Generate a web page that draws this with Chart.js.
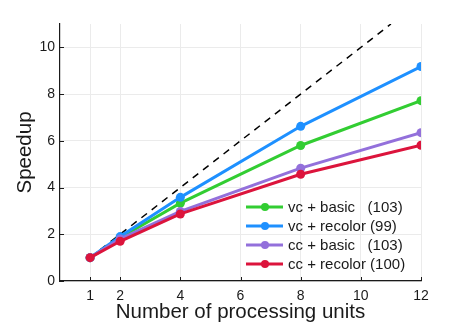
<!DOCTYPE html>
<html>
<head>
  <title>Speedup</title>
  <script src="https://cdn.jsdelivr.net/npm/chart.js"></script>
  <style>
    html, body { margin: 0; padding: 0; background: #fff; }
    #wrap { width: 465px; height: 327px; }
  </style>
</head>
<body>
<div id="wrap">
  <canvas id="speedupChart" width="465" height="327"></canvas>
</div>

<script>
  // data
  const units = [1, 2, 4, 8, 12];
  const vcBasic = [1, 1.85, 3.33, 5.8, 7.72];
  const vcRecolor = [1, 1.9, 3.58, 6.62, 9.18];
  const ccBasic = [1, 1.8, 2.98, 4.83, 6.35];
  const ccRecolor = [1, 1.7, 2.87, 4.57, 5.81];
  const seriesLabels = ['vc + basic   (103)', 'vc + recolor (99)', 'cc + basic   (103)', 'cc + recolor (100)'];
  const seriesColors = ['#32cd32', '#1e90ff', '#9370db', '#dc143c'];
  const idealX = [1, 11];
  const xTicks = [1, 2, 4, 6, 8, 10, 12];
  const yTicks = [0, 2, 4, 6, 8, 10];

  const FONT = 'Liberation Sans, Arial, Helvetica, sans-serif';
  const TEXT = '#1a1a1a';

  const toPoints = (ys) => ys.map((y, i) => ({ x: units[i], y: y }));
  const allSeries = [vcBasic, vcRecolor, ccBasic, ccRecolor];

  const datasets = allSeries.map((ys, i) => ({
    label: seriesLabels[i],
    data: toPoints(ys),
    borderColor: seriesColors[i],
    backgroundColor: seriesColors[i],
    borderWidth: 3,
    pointRadius: 4.5,
    pointBorderWidth: 0,
    order: 4 - i
  }));
  datasets.push({
    label: '',
    data: idealX.map(v => ({ x: v, y: v })),
    borderColor: '#000',
    borderWidth: 1.5,
    borderDash: [7, 6],
    pointRadius: 0,
    order: 10
  });

  // legend inside the plot, bottom right, no frame
  const innerLegend = {
    id: 'innerLegend',
    afterDraw(chart) {
      const ctx = chart.ctx;
      ctx.save();
      ctx.font = '15px ' + FONT;
      ctx.textBaseline = 'middle';
      chart.data.datasets.forEach((ds, i) => {
        if (!ds.label) return;
        const y = 207 + i * 19;
        ctx.strokeStyle = ds.borderColor;
        ctx.lineWidth = 3;
        ctx.beginPath();
        ctx.moveTo(246, y);
        ctx.lineTo(283, y);
        ctx.stroke();
        ctx.fillStyle = ds.borderColor;
        ctx.beginPath();
        ctx.arc(265, y, 4, 0, Math.PI * 2);
        ctx.fill();
        ctx.fillStyle = TEXT;
        ctx.fillText(ds.label, 288, y + 1);
      });
      ctx.restore();
    }
  };

  // small inward tick marks like the original
  const innerTicks = {
    id: 'innerTicks',
    beforeDatasetsDraw(chart) {
      const ctx = chart.ctx;
      const area = chart.chartArea;
      const x = chart.scales.x, y = chart.scales.y;
      ctx.save();
      ctx.strokeStyle = '#1a1a1a';
      ctx.lineWidth = 1;
      ctx.beginPath();
      xTicks.forEach(v => {
        const px = Math.round(x.getPixelForValue(v)) + 0.5;
        ctx.moveTo(px, area.bottom);
        ctx.lineTo(px, area.bottom - 4);
      });
      yTicks.forEach(v => {
        const py = Math.round(y.getPixelForValue(v)) + 0.5;
        ctx.moveTo(area.left, py);
        ctx.lineTo(area.left + 4, py);
      });
      ctx.stroke();
      ctx.restore();
    }
  };

  const ctx = document.getElementById('speedupChart').getContext('2d');
  new Chart(ctx, {
    type: 'line',
    data: { datasets: datasets },
    plugins: [innerTicks, innerLegend],
    options: {
      responsive: false,
      animation: false,
      layout: { padding: { left: 0, right: 44, top: 24, bottom: 0 } },
      plugins: { legend: { display: false }, tooltip: { enabled: false } },
      scales: {
        x: {
          type: 'linear',
          min: 0,
          max: 12,
          afterBuildTicks: s => { s.ticks = xTicks.map(v => ({ value: v })); },
          afterFit: s => { s.height = 46; },
          grid: { color: '#ebebeb', drawTicks: false },
          border: { color: '#1a1a1a', width: 1.2 },
          ticks: { padding: 7, color: TEXT, font: { family: FONT, size: 14 }, maxRotation: 0 },
          title: { display: true, text: 'Number of processing units', color: TEXT,
                   font: { family: FONT, size: 20.5 }, padding: { top: 0, bottom: 2 } }
        },
        y: {
          min: 0,
          max: 11,
          afterBuildTicks: s => { s.ticks = yTicks.map(v => ({ value: v })); },
          afterFit: s => { s.width = 60; },
          grid: { color: '#ebebeb', drawTicks: false },
          border: { color: '#1a1a1a', width: 1.2 },
          ticks: { padding: 5, color: TEXT, font: { family: FONT, size: 14 } },
          title: { display: true, text: 'Speedup', color: TEXT,
                   font: { family: FONT, size: 20.5 }, padding: { top: 13, bottom: 0 } }
        }
      }
    }
  });
</script>
</body>
</html>
